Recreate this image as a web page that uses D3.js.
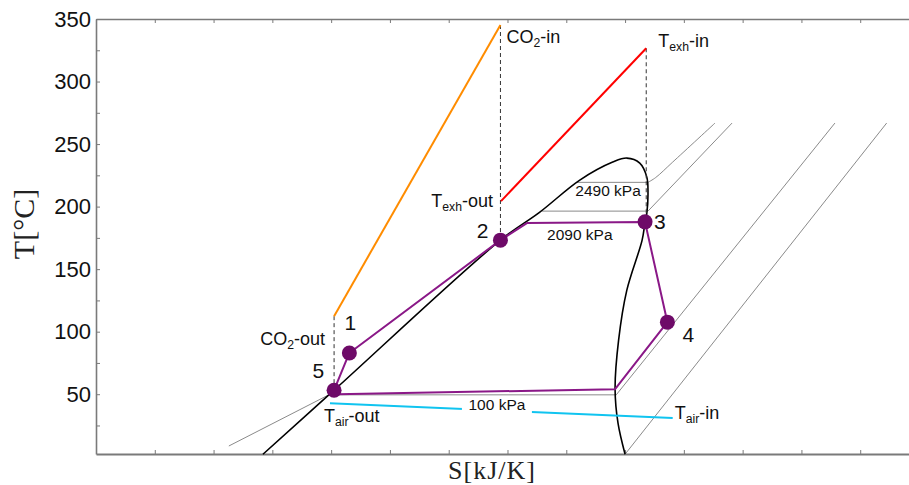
<!DOCTYPE html>
<html>
<head>
<meta charset="utf-8">
<script src="https://cdn.jsdelivr.net/npm/d3@7"></script>
<style>
  body { margin: 0; background: #fff; }
  svg { display: block; }
</style>
</head>
<body>
<script>
// T-S diagram data (S in tick units, T in degC)
var sTicks = d3.range(1, 14);
var tTicks = d3.range(25, 351, 25);
var tLabels = [50, 100, 150, 200, 250, 300, 350];

// cycle state points 1..5
var stateNames = ["1", "2", "3", "4", "5"];
var stateS = [4.31, 6.88, 9.34, 9.72, 4.05];
var stateT = [83.0, 173.2, 187.8, 107.6, 53.2];

// purple cycle path: 5 -> 1 -> 2 -> knee -> 3 -> 4 -> knee -> 5
var cycleS = [4.05, 4.31, 6.88, 7.33, 9.34, 9.72, 8.83, 4.10];
var cycleT = [53.2, 83.0, 173.2, 186.8, 187.6, 107.6, 54.0, 50.0];

// saturation dome
var domeS = [2.84, 4.05, 6.88, 7.55, 8.23, 8.79, 9.03, 9.25, 9.37, 9.39, 9.37, 9.34, 9.29, 9.03, 8.89, 8.83, 8.88, 9.0];
var domeT = [2.0, 53.2, 173.2, 195.6, 221.2, 235.6, 238.8, 234.8, 223.6, 210.8, 194.8, 187.6, 173.2, 133.2, 93.2, 54.0, 26.8, 2.0];

// isobars (grey): straight part, then curved superheated part
var iso100S = [2.26, 3.96, 8.85, 12.57];
var iso100T = [8.6, 49.5, 49.5, 266.8];
var isoMidS = [7.59, 9.39, 10.82];
var isoMidT = [196.4, 196.4, 266.8];
var isoHighS = [8.18, 9.39];
var isoHighT = [219.4, 219.4];
var isoHighVapS = [9.39, 9.52, 9.81, 10.53];
var isoHighVapT = [219.4, 223.2, 235.6, 266.8];
var isoFarS = [9.0, 13.45];
var isoFarT = [2.0, 266.8];

// heat source / sink streams
var co2S = [4.05, 6.88];
var co2T = [112.4, 345.2];
var exhS = [6.89, 9.36];
var exhT = [204.4, 326.6];
var airS = [3.98, 9.81];
var airT = [42.8, 31.0];

var W = 909, H = 485;
var margin = {top: 19, right: 0, bottom: 31, left: 96};

var svg = d3.select("body").append("svg")
  .attr("width", W)
  .attr("height", H);

var x = d3.scaleLinear().domain([0, 13.83]).range([margin.left, W - margin.right]);
var y = d3.scaleLinear().domain([2.2, 350]).range([H - margin.bottom, margin.top]);

function pts(sArr, tArr) {
  return sArr.map(function(s, i) { return [s, tArr[i]]; });
}

var lineLin = d3.line().x(function(d) { return x(d[0]); }).y(function(d) { return y(d[1]); });
var lineSmooth = d3.line().x(function(d) { return x(d[0]); }).y(function(d) { return y(d[1]); }).curve(d3.curveCatmullRom.alpha(0.5));

// axes
var axisColor = "#7a7a7a";
var gy = svg.append("g")
  .attr("transform", "translate(" + margin.left + ",0)")
  .call(d3.axisLeft(y).tickValues(tTicks).tickSizeInner(-4).tickSizeOuter(0).tickPadding(5)
    .tickFormat(function(d) { return tLabels.indexOf(d) >= 0 ? d : ""; }));
var gb = svg.append("g")
  .attr("transform", "translate(0," + (H - margin.bottom) + ")")
  .call(d3.axisBottom(x).tickValues(sTicks).tickSizeInner(-4).tickSizeOuter(0).tickFormat(""));
var gt = svg.append("g")
  .attr("transform", "translate(0," + margin.top + ")")
  .call(d3.axisTop(x).tickValues(sTicks).tickSizeInner(-4).tickSizeOuter(0).tickFormat(""));

[gy, gb, gt].forEach(function(g) {
  g.select(".domain").attr("stroke", axisColor).attr("stroke-width", 1.6);
  g.selectAll(".tick line").attr("stroke", axisColor).attr("stroke-width", 1);
});
gb.select(".domain").attr("stroke-width", 2);
gy.selectAll(".tick text")
  .attr("font-family", "Liberation Sans, Arial, sans-serif")
  .attr("font-size", 22)
  .attr("fill", "#111");

// axis titles
svg.append("text")
  .attr("transform", "translate(34," + 224 + ") rotate(-90)")
  .attr("text-anchor", "middle")
  .attr("font-family", "Liberation Serif, Times New Roman, serif")
  .attr("font-size", 30)
  .attr("fill", "#222")
  .text("T[°C]");
svg.append("text")
  .attr("x", 492).attr("y", 479)
  .attr("text-anchor", "middle")
  .attr("font-family", "Liberation Serif, Times New Roman, serif")
  .attr("font-size", 26)
  .attr("letter-spacing", 1)
  .attr("fill", "#222")
  .text("S[kJ/K]");

// isobars
[[iso100S, iso100T], [isoMidS, isoMidT], [isoHighS, isoHighT], [isoFarS, isoFarT]].forEach(function(p) {
  svg.append("path")
    .attr("d", lineLin(pts(p[0], p[1])))
    .attr("fill", "none")
    .attr("stroke", "#7d7d7d")
    .attr("stroke-width", 0.9);
});
svg.append("path")
  .attr("d", lineSmooth(pts(isoHighVapS, isoHighVapT)))
  .attr("fill", "none")
  .attr("stroke", "#7d7d7d")
  .attr("stroke-width", 0.9);

// saturation dome
svg.append("path")
  .attr("d", lineSmooth(pts(domeS, domeT)))
  .attr("fill", "none")
  .attr("stroke", "#000")
  .attr("stroke-width", 1.6);

// dashed drops
var dashes = [
  [[co2S[1], co2T[1]], [stateS[1], stateT[1]]],
  [[co2S[0], co2T[0]], [stateS[4], stateT[4]]],
  [[exhS[1], exhT[1]], [exhS[1], stateT[2]]]
];
dashes.forEach(function(d) {
  svg.append("path")
    .attr("d", lineLin(d))
    .attr("fill", "none")
    .attr("stroke", "#333")
    .attr("stroke-width", 1)
    .attr("stroke-dasharray", "4,3");
});

// streams
svg.append("path").attr("d", lineLin(pts(co2S, co2T)))
  .attr("fill", "none").attr("stroke", "#ff8c00").attr("stroke-width", 2);
svg.append("path").attr("d", lineLin(pts(exhS, exhT)))
  .attr("fill", "none").attr("stroke", "#ff0000").attr("stroke-width", 2);
svg.append("path").attr("d", lineLin(pts(airS, airT)))
  .attr("fill", "none").attr("stroke", "#10c4f0").attr("stroke-width", 2);

// cycle
svg.append("path").attr("d", lineLin(pts(cycleS, cycleT)))
  .attr("fill", "none").attr("stroke", "#8a1887").attr("stroke-width", 2)
  .attr("stroke-linejoin", "round");

svg.selectAll("circle.state")
  .data(pts(stateS, stateT))
  .enter().append("circle")
  .attr("class", "state")
  .attr("cx", function(d) { return x(d[0]); })
  .attr("cy", function(d) { return y(d[1]); })
  .attr("r", 7.5)
  .attr("fill", "#6e0a68");

// state numbers
var numOff = [[1, -23, "middle"], [-12, -2, "end"], [9, 7, "start"], [15, 20, "start"], [-10, -12, "end"]];
stateNames.forEach(function(n, i) {
  svg.append("text")
    .attr("x", x(stateS[i]) + numOff[i][0])
    .attr("y", y(stateT[i]) + numOff[i][1])
    .attr("text-anchor", numOff[i][2])
    .attr("font-family", "Liberation Sans, Arial, sans-serif")
    .attr("font-size", 21)
    .attr("fill", "#111")
    .text(n);
});

// stream labels with subscripts
function subLabel(px, py, anchor, main, sub, rest, size) {
  var t = svg.append("text")
    .attr("x", px).attr("y", py)
    .attr("text-anchor", anchor)
    .attr("font-family", "Liberation Sans, Arial, sans-serif")
    .attr("font-size", size)
    .attr("fill", "#111");
  t.append("tspan").text(main);
  t.append("tspan").attr("font-size", size * 0.68).attr("dy", size * 0.22).text(sub);
  t.append("tspan").attr("dy", -size * 0.22).text(rest);
  return t;
}

subLabel(x(co2S[1]) + 6, y(co2T[1]) + 18, "start", "CO", "2", "-in", 18);
subLabel(x(co2S[0]) - 9, y(co2T[0]) + 29, "end", "CO", "2", "-out", 18);
subLabel(x(exhS[1]) + 12, y(exhT[1]) - 1, "start", "T", "exh", "-in", 18);
subLabel(x(exhS[0]) - 8, y(exhT[0]) + 6, "end", "T", "exh", "-out", 18);
subLabel(x(airS[0]) - 6, y(airT[0]) + 19, "start", "T", "air", "-out", 18);
subLabel(x(airS[1]) + 2, y(airT[1]) + 1, "start", "T", "air", "-in", 18);

// pressure labels
var pLabels = ["100 kPa", "2090 kPa", "2490 kPa"];
var pS = [6.82, 8.23, 8.71];
var pT = [37.6, 173.2, 208.5];
pLabels.forEach(function(lbl, i) {
  if (i === 0) {
    svg.append("rect")
      .attr("x", x(pS[i]) - 35).attr("y", y(pT[i]) - 13)
      .attr("width", 70).attr("height", 20)
      .attr("fill", "#fff");
  }
  svg.append("text")
    .attr("x", x(pS[i])).attr("y", y(pT[i]))
    .attr("text-anchor", "middle")
    .attr("font-family", "Liberation Sans, Arial, sans-serif")
    .attr("font-size", 15.5)
    .attr("fill", "#111")
    .text(lbl);
});
</script>
</body>
</html>
